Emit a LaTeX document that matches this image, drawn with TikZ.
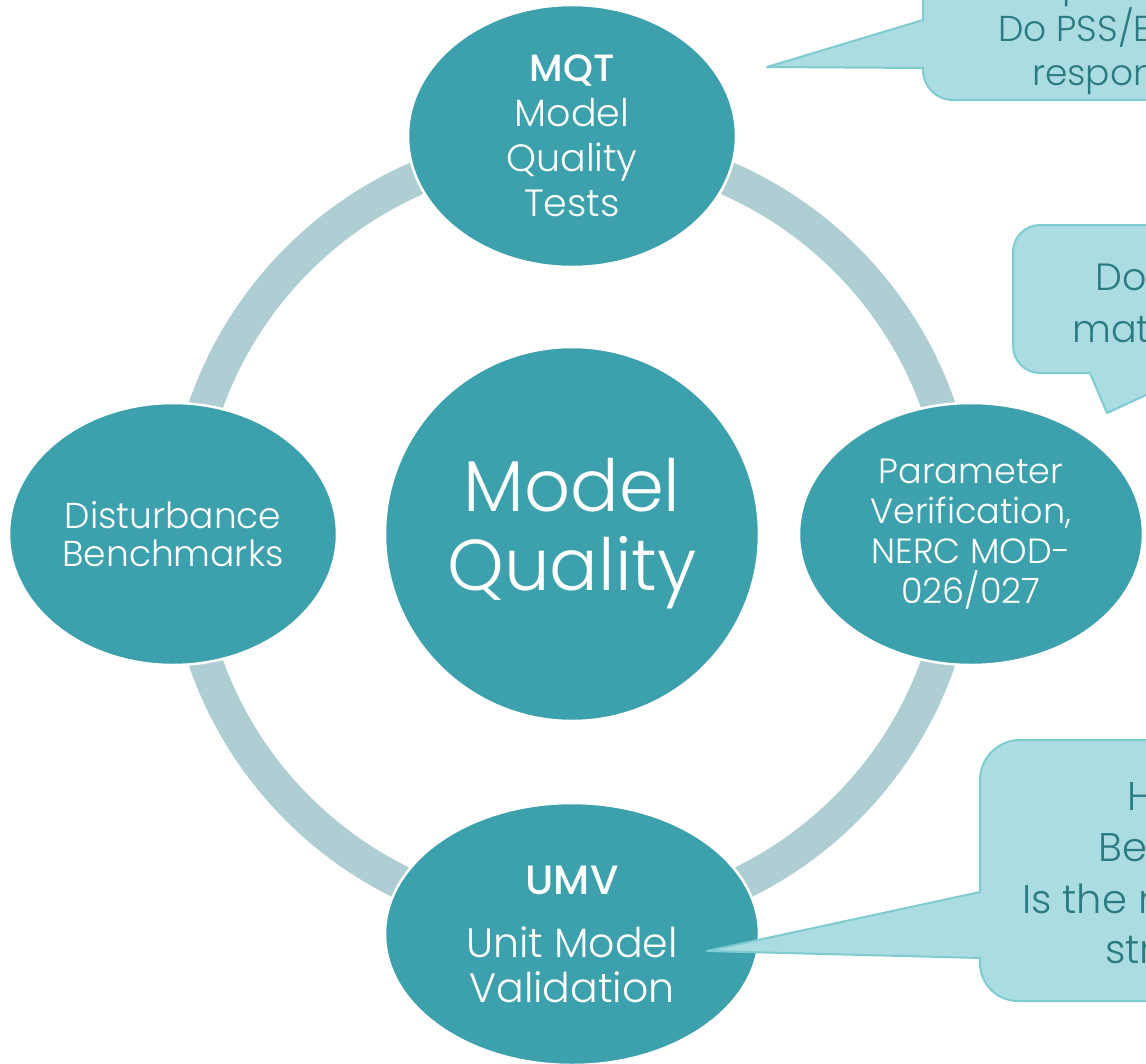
\documentclass[tikz,border=0pt]{standalone}
\usepackage{fontspec}
\IfFontExistsTF{Poppins Light}
  {\setmainfont{Poppins Light}[BoldFont=Poppins Medium]}
  {\setmainfont{Poppins}}
\usetikzlibrary{shapes.geometric}

\definecolor{tealfill}{HTML}{3CA1AD}
\definecolor{ringcol}{HTML}{AECED4}
\definecolor{notefill}{HTML}{ABDCE1}
\definecolor{noteline}{HTML}{7FCBD2}
\definecolor{notetext}{HTML}{2B7B83}

\begin{document}
\begin{tikzpicture}[x=1pt,y=-1pt,
  ringline/.style={draw=ringcol, line width=34pt},
  stage/.style={ellipse, fill=tealfill, draw=white, line width=2.5pt,
    inner sep=0pt, text=white, align=center},
  hub/.style={stage, circle, minimum size=374pt},
  callout/.style={fill=notefill, draw=noteline, line width=2pt, line join=round},
  notetxt/.style={anchor=base west, inner sep=0pt, text=notetext}
]
\useasboundingbox (0,0) rectangle (1146,1063);
\clip (0,0) rectangle (1146,1063);

% ring linking the four stages
\coordinate (c) at (572,534);
\draw[ringline] (c) circle[radius=388];

% centre and the four stages
\node[hub, font=\fontsize{72}{79}\selectfont] (hub) at (572,534) {Model\\Quality};
\node[stage, minimum width=328pt, minimum height=262pt,
      font=\fontsize{38}{45}\selectfont] (mqt) at (572,136)
  {{\bfseries MQT}\\Model\\Quality\\Tests};
\node[stage, minimum width=328pt, minimum height=262pt,
      font=\fontsize{36}{38}\selectfont] (dist) at (173,534)
  {Disturbance\\Benchmarks};
\node[stage, minimum width=344pt, minimum height=262pt,
      font=\fontsize{35}{40}\selectfont] (param) at (971,534)
  {Parameter\\Verification,\\NERC MOD-\\026/027};
\node[stage, minimum width=374pt, minimum height=262pt,
      font=\fontsize{41}{45}\selectfont] (umv) at (572,934)
  {{\bfseries UMV}\\[18pt]Unit Model\\Validation};

% call-outs
\coordinate (tipA) at (767,67);
\draw[callout] (1200,-100) -- (923,-100) -- (923,20) -- (tipA) -- (923,68)
  -- (923,70) .. controls (923,86.6) and (936.4,100) .. (953,100)
  -- (1200,100) -- cycle;
\node[notetxt, font=\fontsize{36}{36}\selectfont] (a0) at (1062,-3) {p};
\node[notetxt, font=\fontsize{36}{36}\selectfont] (a1) at (998,41) {Do PSS/E};
\node[notetxt, font=\fontsize{36}{36}\selectfont] (a2) at (1032,85) {respon};

\coordinate (tipB) at (1107,413);
\draw[callout] (1300,225) -- (1040,225)
  .. controls (1025.1,225) and (1013,237.1) .. (1013,252)
  -- (1013,346) .. controls (1013,360.9) and (1025.1,373) .. (1040,373)
  -- (1090,373) -- (tipB) -- (1194,373) -- (1300,373) -- cycle;
\node[notetxt, font=\fontsize{38}{38}\selectfont] (b1) at (1095,290) {Do};
\node[notetxt, font=\fontsize{38}{38}\selectfont] (b2) at (1072,342) {mat};

\coordinate (tipC) at (707,951);
\draw[callout] (1300,740) -- (1020,740)
  .. controls (997.9,740) and (980,757.9) .. (980,780)
  -- (980,892) -- (tipC) -- (980,958)
  -- (980,963) .. controls (980,984) and (997,1001) .. (1018,1001)
  -- (1300,1001) -- cycle;
\node[notetxt, font=\fontsize{40}{40}\selectfont] (c1) at (1127,810) {H};
\node[notetxt, font=\fontsize{40}{40}\selectfont] (c2) at (1098,861) {Be};
\node[notetxt, font=\fontsize{40}{40}\selectfont] (c3) at (1022,913) {Is the m};
\node[notetxt, font=\fontsize{40}{40}\selectfont] (c4) at (1105,963) {str};
\end{tikzpicture}
\end{document}
